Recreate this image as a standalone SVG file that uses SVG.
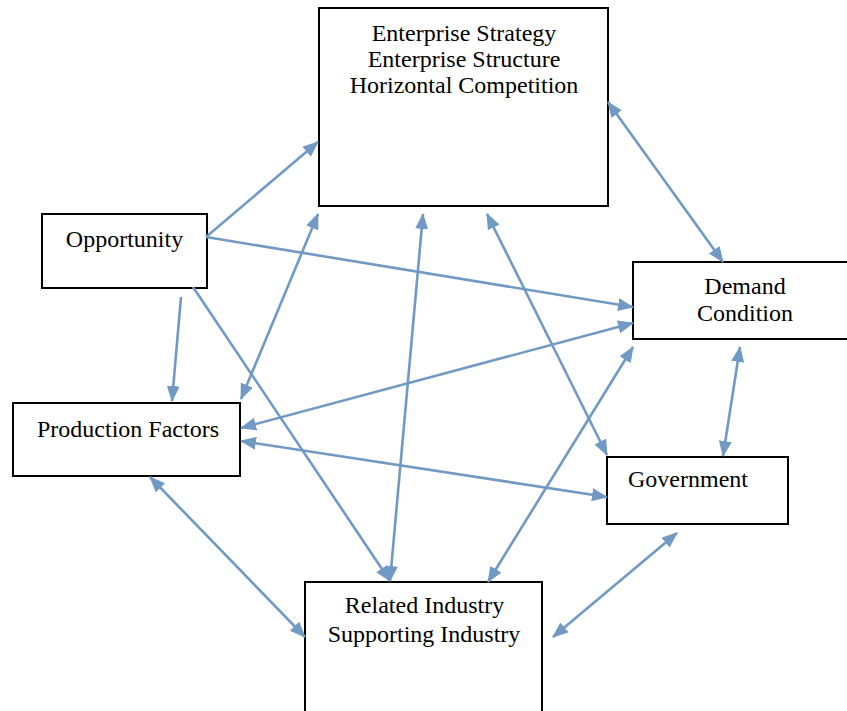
<svg xmlns="http://www.w3.org/2000/svg" width="847" height="711" viewBox="0 0 847 711">
<defs>
<style>
.box{fill:#fff;stroke:#000;stroke-width:2}
.t{font-family:'Liberation Serif','Times New Roman',serif;font-size:24px;fill:#000;text-anchor:middle}
.c{stroke:#7099c4;stroke-width:2.6;fill:none}
.one{marker-end:url(#ah)}
.two{marker-start:url(#ah);marker-end:url(#ah)}
</style>
<marker id="ah" markerUnits="userSpaceOnUse" markerWidth="16" markerHeight="14" refX="15" refY="6.5" orient="auto-start-reverse">
<path d="M0,0 L16,6.5 L0,13 z" fill="#7099c4"/>
</marker>
</defs>
<rect width="847" height="711" fill="#fff"/>
<g id="enterprise"><rect class="box" x="319" y="8" width="289" height="198"/>
<text class="t" x="464" y="41">Enterprise Strategy</text>
<text class="t" x="464" y="67">Enterprise Structure</text>
<text class="t" x="464" y="93">Horizontal Competition</text></g>
<g id="opportunity"><rect class="box" x="42" y="214" width="165" height="74"/>
<text class="t" x="124.5" y="247">Opportunity</text></g>
<g id="demand"><rect class="box" x="633" y="262" width="220" height="77"/>
<text class="t" x="745" y="294">Demand</text>
<text class="t" x="745" y="321">Condition</text></g>
<g id="production"><rect class="box" x="13" y="403" width="227" height="73"/>
<text class="t" x="128" y="437">Production Factors</text></g>
<g id="government"><rect class="box" x="607" y="457" width="181" height="67"/>
<text class="t" x="688" y="487">Government</text></g>
<g id="related"><rect class="box" x="305" y="582" width="237" height="135"/>
<text class="t" x="424.5" y="613">Related Industry</text>
<text class="t" x="424" y="642">Supporting Industry</text></g>
<g id="connectors">
<line class="c one" x1="206" y1="237" x2="318" y2="142"/>
<line class="c one" x1="206" y1="237" x2="633" y2="307"/>
<line class="c one" x1="181" y1="297" x2="172" y2="401"/>
<line class="c one" x1="193" y1="287" x2="390" y2="581"/>
<line class="c two" x1="241" y1="399" x2="318" y2="214"/>
<line class="c two" x1="423" y1="214" x2="390" y2="581"/>
<line class="c two" x1="487" y1="214" x2="607" y2="455"/>
<line class="c two" x1="608" y1="102" x2="723" y2="262"/>
<line class="c two" x1="633" y1="323" x2="241" y2="428"/>
<line class="c two" x1="241" y1="441" x2="607" y2="497"/>
<line class="c two" x1="150" y1="477" x2="305" y2="637"/>
<line class="c two" x1="633" y1="347" x2="488" y2="582"/>
<line class="c two" x1="740" y1="347" x2="723" y2="456"/>
<line class="c two" x1="677" y1="533" x2="553" y2="637"/>
</g>
</svg>
